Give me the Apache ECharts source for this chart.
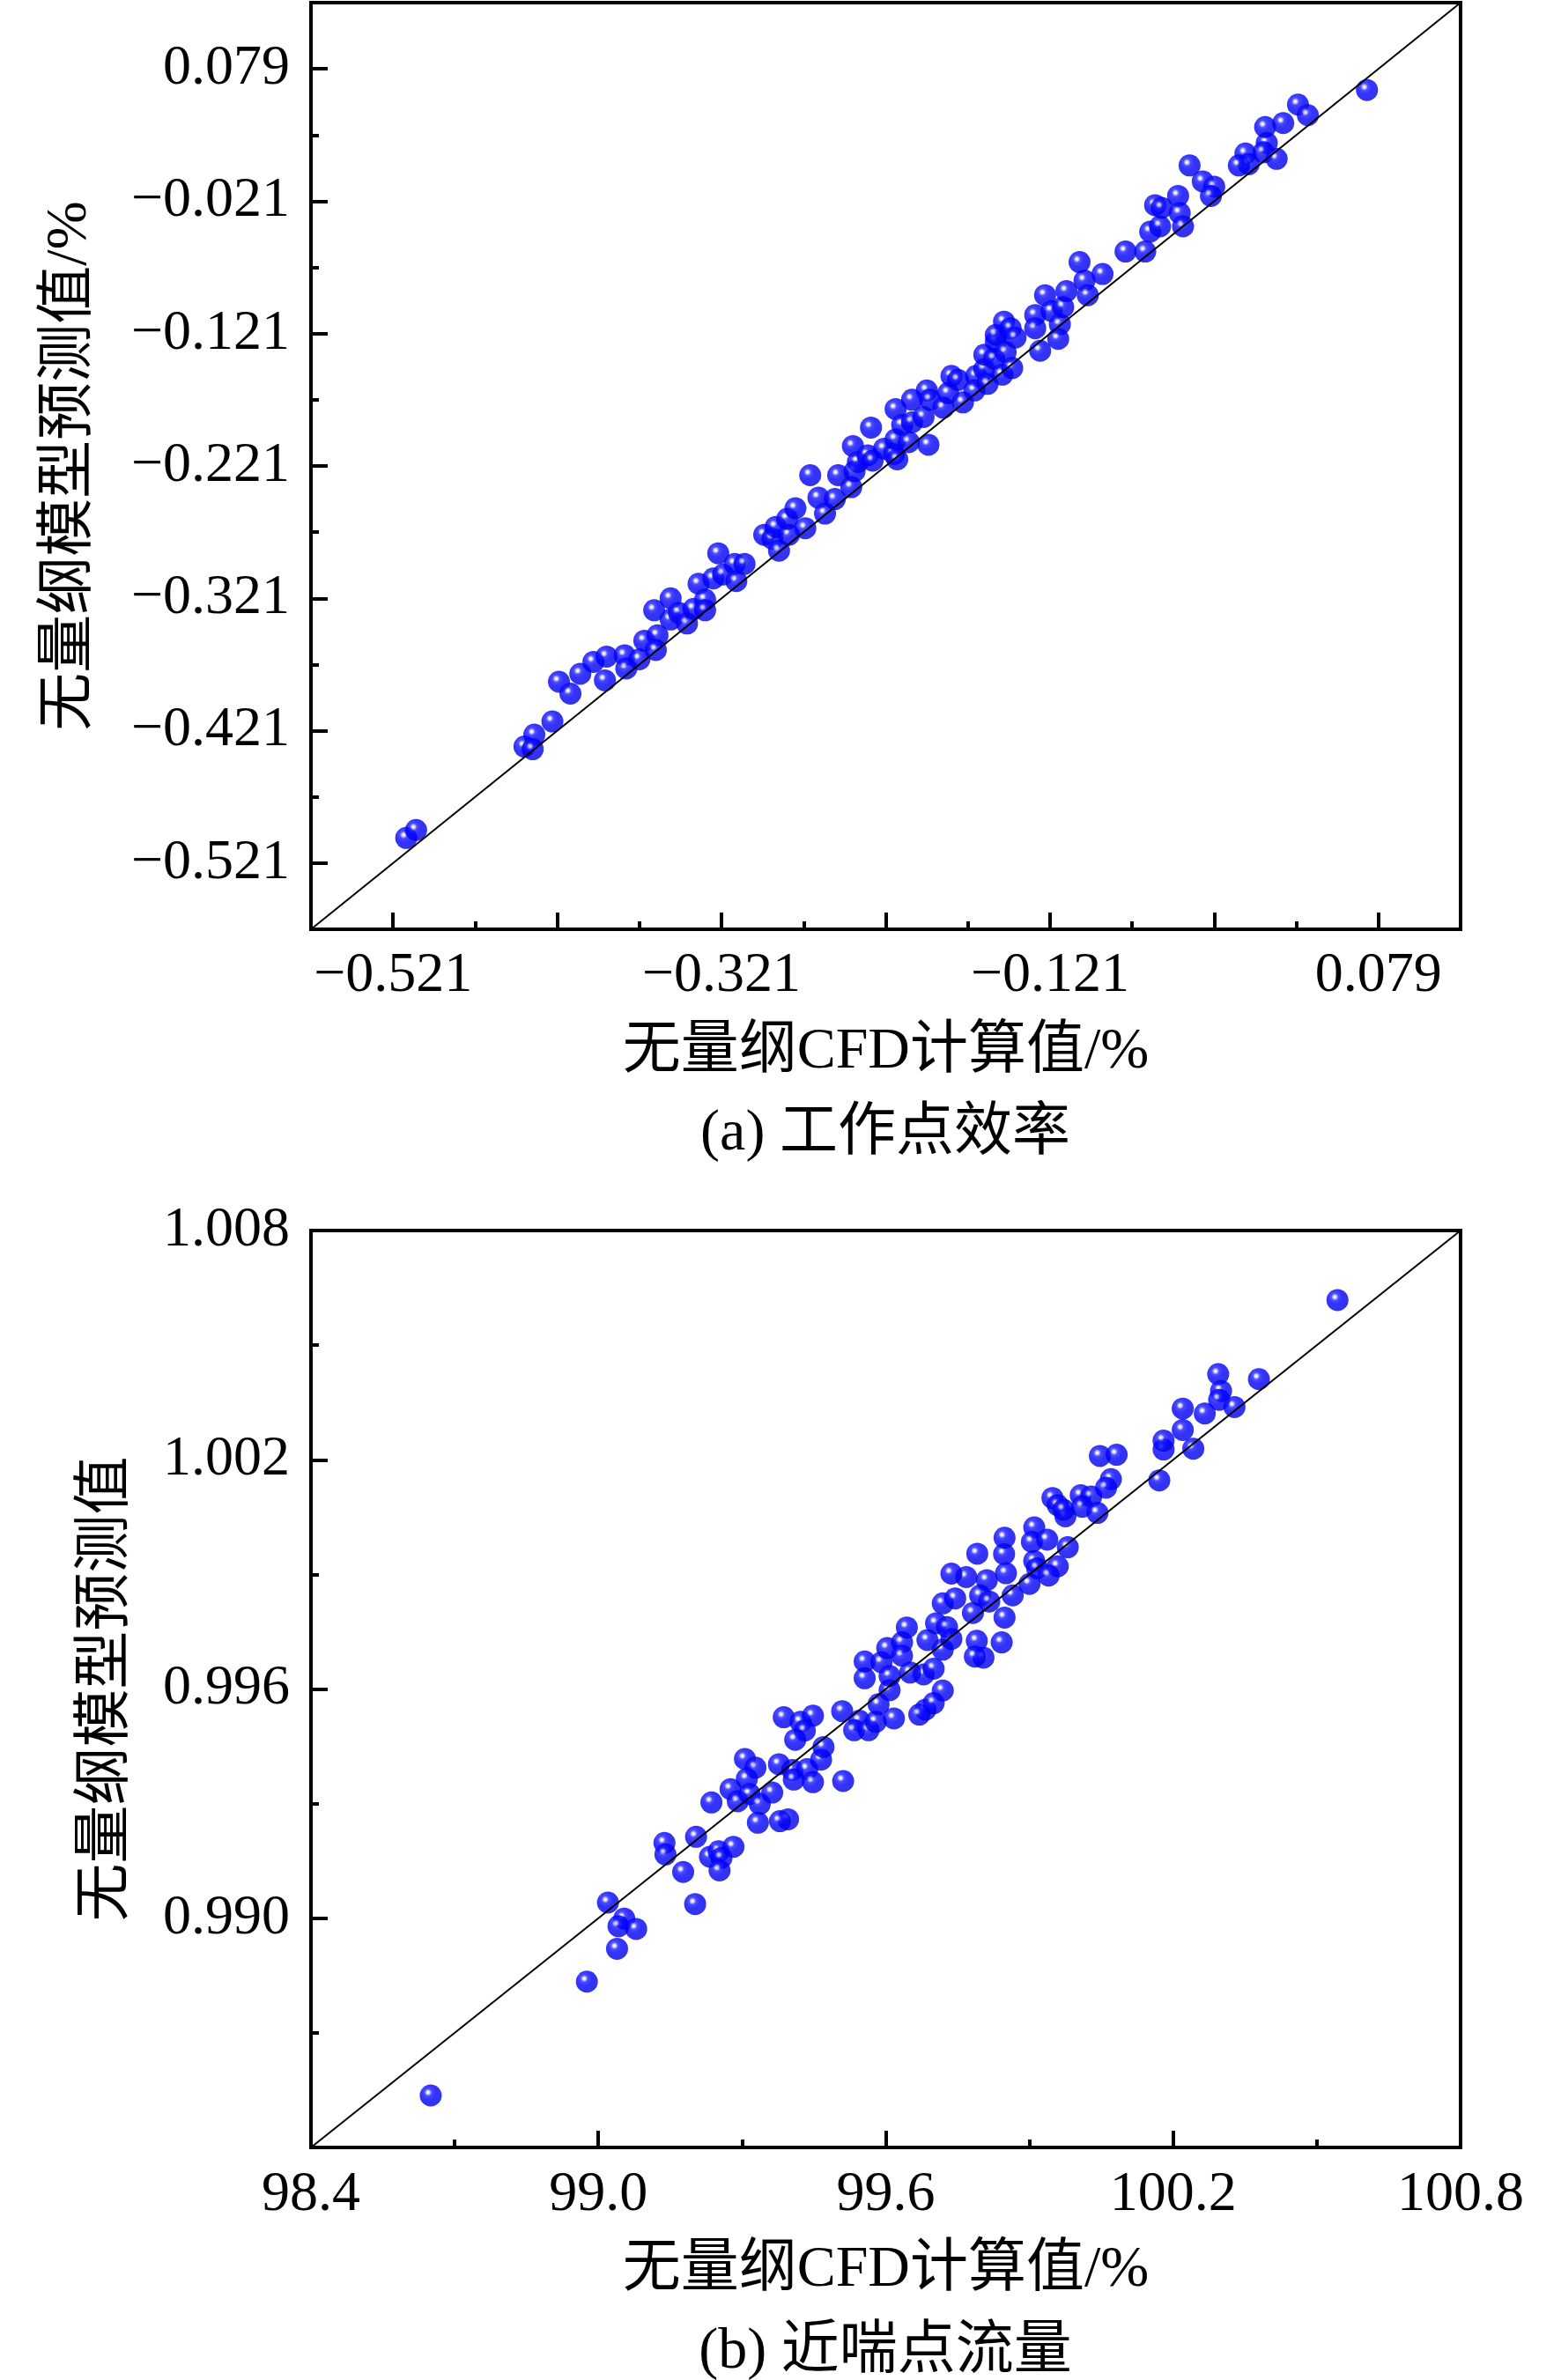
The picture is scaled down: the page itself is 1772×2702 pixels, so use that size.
<!DOCTYPE html>
<html>
<head>
<meta charset="utf-8">
<script src="https://cdn.jsdelivr.net/npm/echarts@6.0.0/dist/echarts.min.js"></script>
<style>
  html, body { margin: 0; padding: 0; background: #fff; }
  #chart { width: 1772px; height: 2702px; }
</style>
</head>
<body>
<div id="chart"></div>
<script>
// ===== 数据 =====
// (a) 工作点效率: [CFD计算值, 模型预测值]
const effPoints = [
  [-0.513, -0.502], [-0.507, -0.496], [-0.441, -0.433], [-0.435, -0.424], [-0.436, -0.435],
  [-0.424, -0.414], [-0.420, -0.384], [-0.413, -0.393], [-0.407, -0.378], [-0.399, -0.369],
  [-0.392, -0.383], [-0.391, -0.365], [-0.380, -0.364], [-0.379, -0.374], [-0.371, -0.367],
  [-0.368, -0.353], [-0.360, -0.349], [-0.361, -0.360], [-0.362, -0.330], [-0.352, -0.321],
  [-0.352, -0.337], [-0.347, -0.332], [-0.342, -0.340], [-0.338, -0.329], [-0.335, -0.310],
  [-0.331, -0.322], [-0.331, -0.330], [-0.326, -0.306],
  [-0.323, -0.287], [-0.320, -0.303], [-0.313, -0.295], [-0.307, -0.295], [-0.312, -0.308],
  [-0.295, -0.273], [-0.290, -0.276], [-0.288, -0.267], [-0.286, -0.285], [-0.280, -0.273],
  [-0.281, -0.261], [-0.276, -0.253], [-0.270, -0.268], [-0.267, -0.228], [-0.262, -0.245],
  [-0.258, -0.257], [-0.250, -0.228], [-0.252, -0.246], [-0.242, -0.237], [-0.240, -0.225],
  [-0.241, -0.206], [-0.238, -0.218], [-0.230, -0.192], [-0.232, -0.213], [-0.229, -0.217],
  [-0.222, -0.208], [-0.216, -0.212], [-0.215, -0.201], [-0.214, -0.216], [-0.215, -0.178],
  [-0.211, -0.190], [-0.205, -0.188], [-0.207, -0.203], [-0.205, -0.171], [-0.198, -0.184],
  [-0.195, -0.205], [-0.196, -0.164], [-0.194, -0.171], [-0.186, -0.177], [-0.183, -0.166],
  [-0.181, -0.153], [-0.177, -0.156], [-0.174, -0.173], [-0.166, -0.153], [-0.167, -0.164],
  [-0.161, -0.148], [-0.159, -0.159], [-0.161, -0.137], [-0.155, -0.140], [-0.150, -0.152],
  [-0.154, -0.127], [-0.154, -0.122], [-0.149, -0.112], [-0.145, -0.117], [-0.148, -0.135],
  [-0.142, -0.124], [-0.144, -0.147], [-0.130, -0.107], [-0.130, -0.117], [-0.127, -0.134],
  [-0.124, -0.092], [-0.120, -0.104], [-0.115, -0.114], [-0.113, -0.101], [-0.111, -0.089],
  [-0.116, -0.125], [-0.100, -0.081], [-0.098, -0.092], [-0.103, -0.067], [-0.089, -0.076],
  [-0.075, -0.059], [-0.063, -0.059], [-0.060, -0.044], [-0.054, -0.040], [-0.057, -0.024],
  [-0.053, -0.026], [-0.043, -0.017], [-0.042, -0.030], [-0.040, -0.040], [-0.036, 0.006],
  [-0.028, -0.006], [-0.021, -0.010], [-0.023, -0.017], [-0.002, 0.015], [0.000, 0.007],
  [-0.006, 0.006], [0.011, 0.023], [0.009, 0.016], [0.017, 0.011], [0.010, 0.035],
  [0.021, 0.038], [0.030, 0.052], [0.036, 0.044], [0.072, 0.063]
];

// (b) 近喘点流量: [CFD计算值/%, 模型预测值]
const flowPoints = [
  [98.650, 0.98536], [98.976, 0.98834], [99.039, 0.98920], [99.054, 0.98999], [99.042, 0.98979],
  [99.079, 0.98972], [99.020, 0.99041], [99.202, 0.99037], [99.177, 0.99121], [99.138, 0.99197],
  [99.140, 0.99167], [99.204, 0.99213], [99.233, 0.99161], [99.251, 0.99175], [99.257, 0.99158],
  [99.253, 0.99125], [99.282, 0.99187], [99.236, 0.99303], [99.276, 0.99338], [99.291, 0.99306],
  [99.306, 0.99417], [99.328, 0.99394], [99.310, 0.99365], [99.316, 0.99325], [99.337, 0.99299],
  [99.333, 0.99250], [99.405, 0.99388], [99.436, 0.99390], [99.408, 0.99363], [99.448, 0.99356],
  [99.363, 0.99329], [99.396, 0.99259], [99.379, 0.99254], [99.511, 0.99359],
  [99.377, 0.99403], [99.387, 0.99526], [99.422, 0.99514], [99.448, 0.99530], [99.431, 0.99491],
  [99.411, 0.99467], [99.465, 0.99415], [99.470, 0.99448], [99.509, 0.99542], [99.545, 0.99517],
  [99.534, 0.99492], [99.564, 0.99492], [99.579, 0.99514], [99.617, 0.99523], [99.585, 0.99560],
  [99.608, 0.99597], [99.556, 0.99628], [99.556, 0.99672], [99.591, 0.99670], [99.608, 0.99634],
  [99.603, 0.99707], [99.634, 0.99722], [99.634, 0.99687], [99.644, 0.99761], [99.679, 0.99638],
  [99.651, 0.99643], [99.700, 0.99653], [99.683, 0.99546], [99.670, 0.99533], [99.719, 0.99596],
  [99.700, 0.99563], [99.687, 0.99728], [99.719, 0.99703], [99.737, 0.99731], [99.705, 0.99772],
  [99.728, 0.99762], [99.719, 0.99824], [99.745, 0.99837], [99.782, 0.99799], [99.797, 0.99845],
  [99.816, 0.99829], [99.768, 0.99893], [99.811, 0.99885], [99.737, 0.99902], [99.791, 0.99954],
  [99.847, 0.99953], [99.848, 0.99996], [99.851, 0.99903], [99.865, 0.99845], [99.900, 0.99875],
  [99.848, 0.99787], [99.842, 0.99722], [99.790, 0.99726], [99.804, 0.99682], [99.786, 0.99685],
  [99.910, 0.99935], [99.916, 0.99916], [99.910, 1.00023], [99.905, 0.99985], [99.937, 0.99991],
  [99.959, 0.99921], [99.980, 0.99971], [99.948, 1.00100], [99.959, 1.00081], [99.975, 1.00052],
  [99.940, 0.99897], [99.971, 1.00069], [100.007, 1.00107], [100.029, 1.00104], [100.010, 1.00077],
  [100.042, 1.00061], [100.047, 1.00210], [100.082, 1.00213], [100.070, 1.00149], [100.060, 1.00127],
  [100.171, 1.00146], [100.180, 1.00227], [100.180, 1.00250], [100.220, 1.00334], [100.220, 1.00278],
  [100.242, 1.00229], [100.266, 1.00321], [100.294, 1.00424], [100.300, 1.00380], [100.296, 1.00357],
  [100.328, 1.00338], [100.379, 1.00411], [100.543, 1.00618]
];

// 坐标范围与刻度
const effRange = [-0.571, 0.129];
const effMajorTicks = [-0.521, -0.421, -0.321, -0.221, -0.121, -0.021, 0.079];
const effMinorTicks = [-0.471, -0.371, -0.271, -0.171, -0.071, 0.029];
const effXLabels = [-0.521, -0.321, -0.121, 0.079];
const effYLabels = [-0.521, -0.421, -0.321, -0.221, -0.121, -0.021, 0.079];

const flowXRange = [98.4, 100.8];
const flowYRange = [0.984, 1.008];
const flowXMajorTicks = [99.0, 99.6, 100.2];
const flowXMinorTicks = [98.7, 99.3, 99.9, 100.5];
const flowXLabels = [98.4, 99.0, 99.6, 100.2, 100.8];
const flowYMajorTicks = [0.990, 0.996, 1.002];
const flowYMinorTicks = [0.987, 0.993, 0.999, 1.005];
const flowYLabels = [0.990, 0.996, 1.002, 1.008];

// ===== 样式 =====
const numFont = "'Liberation Serif', 'Times New Roman', serif";
const cnFont = "'Liberation Serif', 'Noto Sans CJK SC', serif";
const tickStyle = { color: '#000', width: 4 };

// 带高光的蓝色小球
const sphere = {
  type: 'radial', x: 0.38, y: 0.36, r: 0.66,
  colorStops: [
    { offset: 0, color: '#ffffff' },
    { offset: 0.07, color: '#eeeeff' },
    { offset: 0.15, color: '#9a9aff' },
    { offset: 0.25, color: '#2020ff' },
    { offset: 0.5, color: '#0000ff' },
    { offset: 1, color: '#0000dd' }
  ]
};

function fmt(digits) {
  return v => v.toFixed(digits).replace('-', '\u2212');
}

// 主刻度轴（带标签）+ 次刻度轴（只画短刻度）
function makeAxes(grid, pos, range, major, minor, labels, digits, name, nameGap, margin) {
  const main = {
    type: 'value', gridIndex: grid, position: pos, min: range[0], max: range[1],
    axisLine: { show: false, onZero: false },
    axisTick: { show: true, inside: true, length: 19, lineStyle: tickStyle, customValues: major },
    axisLabel: {
      customValues: labels, formatter: fmt(digits), color: '#000',
      fontSize: 64, fontFamily: numFont, margin: margin
    },
    splitLine: { show: false },
    name: name, nameLocation: 'middle', nameGap: nameGap,
    nameTextStyle: { color: '#000', fontSize: 66, fontFamily: cnFont }
  };
  const sub = {
    type: 'value', gridIndex: grid, position: pos, min: range[0], max: range[1],
    axisLine: { show: false, onZero: false },
    axisTick: { show: true, inside: true, length: 9, lineStyle: tickStyle, customValues: minor },
    axisLabel: { show: false },
    splitLine: { show: false }
  };
  return [main, sub];
}

const chart = echarts.init(document.getElementById('chart'));

const xAxes = [
  ...makeAxes(0, 'bottom', effRange, effMajorTicks, effMinorTicks, effXLabels, 3, '无量纲CFD计算值/%', 107, 21),
  ...makeAxes(1, 'bottom', flowXRange, flowXMajorTicks, flowXMinorTicks, flowXLabels, 1, '无量纲CFD计算值/%', 107, 22)
];
const yAxes = [
  ...makeAxes(0, 'left', effRange, effMajorTicks, effMinorTicks, effYLabels, 3, '无量纲模型预测值/%', 240, 24),
  ...makeAxes(1, 'left', flowYRange, flowYMajorTicks, flowYMinorTicks, flowYLabels, 3, '无量纲模型预测值', 198, 24)
];

function scatter(xi, yi, data) {
  return {
    type: 'scatter', xAxisIndex: xi, yAxisIndex: yi, data: data,
    symbol: 'circle', symbolSize: 25, z: 2, silent: true,
    itemStyle: { color: sphere }
  };
}

function diagonal(xi, yi, xr, yr) {
  return {
    type: 'line', xAxisIndex: xi, yAxisIndex: yi,
    data: [[xr[0], yr[0]], [xr[1], yr[1]]],
    symbol: 'none', z: 5, silent: true,
    lineStyle: { color: '#000', width: 2 }
  };
}

chart.setOption({
  backgroundColor: '#fff',
  animation: false,
  grid: [
    { left: 353, top: 3, width: 1305, height: 1052, show: true, borderColor: '#000', borderWidth: 4 },
    { left: 353, top: 1397, width: 1305, height: 1041, show: true, borderColor: '#000', borderWidth: 4 }
  ],
  xAxis: xAxes,
  yAxis: yAxes,
  series: [
    scatter(0, 0, effPoints),
    diagonal(0, 0, effRange, effRange),
    scatter(2, 2, flowPoints),
    diagonal(2, 2, flowXRange, flowYRange)
  ],
  graphic: [
    {
      type: 'text', x: 1005, y: 1288,
      style: { text: '(a) 工作点效率', fontSize: 66, fontFamily: cnFont, fill: '#000', align: 'center', verticalAlign: 'middle' }
    },
    {
      type: 'text', x: 1005, y: 2671,
      style: { text: '(b) 近喘点流量', fontSize: 66, fontFamily: cnFont, fill: '#000', align: 'center', verticalAlign: 'middle' }
    }
  ]
});
</script>
</body>
</html>
